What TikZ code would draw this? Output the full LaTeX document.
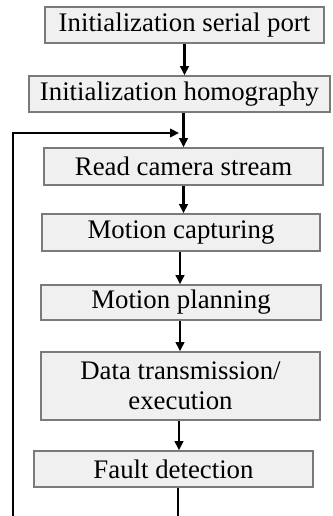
\documentclass[tikz,border=0pt]{standalone}
\usepackage{fontspec}
\setmainfont{Liberation Serif}
\usetikzlibrary{arrows.meta}
\definecolor{boxfill}{HTML}{F0F0F0}
\definecolor{boxdraw}{HTML}{7A7A7A}
\begin{document}
\begin{tikzpicture}[x=1pt,y=1pt,
  stepbox/.style={draw=boxdraw, fill=boxfill, line width=1.6pt, inner sep=0pt,
    minimum width=279pt, minimum height=36pt, align=center,
    font=\fontsize{26.8}{30.5}\selectfont},
  flow/.style={line width=2.6pt, black, -{Triangle[length=9pt,width=8.5pt]}}]
\clip (0,0) rectangle (332,-516);
\node[stepbox] (b1) at (184.5,-25) {Initialization serial port};
\node[stepbox, minimum width=301pt] (b2) at (179.5,-94) {Initialization homography};
\node[stepbox, minimum height=37pt] (b3) at (183.5,-166.5) {Read camera stream};
\node[stepbox, minimum width=278pt, minimum height=37pt] (b4) at (181,-232.5) {Motion capturing};
\node[stepbox, minimum width=280pt, minimum height=35pt] (b5) at (181,-302.5) {Motion planning};
\node[stepbox, minimum height=68pt] (b6) at (180.5,-386) {Data transmission/\\execution};
\node[stepbox] (b7) at (173.5,-469) {Fault detection};
\coordinate (lp) at (13,-540);
\coordinate (in) at (179,-133);
\draw[flow] (b1.south) -- (b1.south |- b2.north);
\draw[flow] (b2.south -| b3.north) -- (b3.north);
\draw[flow] (b3.south) -- (b3.south |- b4.north);
\draw[flow] ([xshift=-1pt]b4.south) -- ([xshift=-1pt]b4.south |- b5.north);
\draw[flow] ([xshift=-1pt]b5.south) -- ([xshift=-1pt]b5.south |- b6.north);
\draw[flow] ([xshift=-1.5pt]b6.south) -- ([xshift=-1.5pt]b6.south |- b7.north);
\draw[flow] ([xshift=4.5pt]b7.south) |- (lp) |- (in);
\end{tikzpicture}
\end{document}
